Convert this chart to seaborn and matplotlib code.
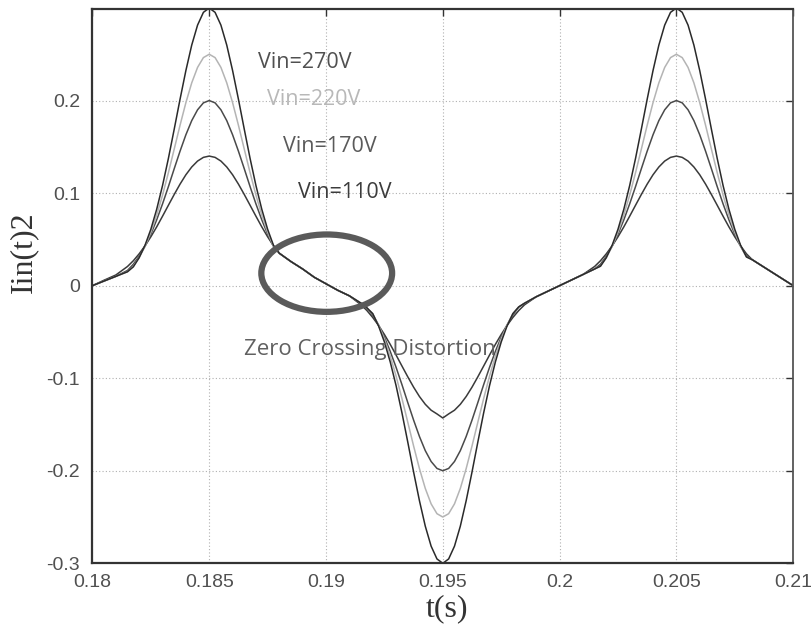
import numpy as np
import pandas as pd
import seaborn as sns
import matplotlib
matplotlib.use("Agg")
import matplotlib.pyplot as plt
from matplotlib.patches import Ellipse

# ---- data ----
t = [0.18, 0.1805, 0.181, 0.1815, 0.18175, 0.182, 0.18225,
     0.1825, 0.18275, 0.183, 0.18325, 0.1835, 0.18375, 0.184, 0.18425, 0.1845, 0.18475,
     0.185, 0.18525, 0.1855, 0.18575, 0.186, 0.18625, 0.1865, 0.18675, 0.187, 0.18725, 0.1875,
     0.18775, 0.188, 0.1885, 0.189, 0.1895, 0.19, 0.1905, 0.191, 0.1915, 0.19175, 0.192, 0.19225,
     0.1925, 0.19275, 0.193, 0.19325, 0.1935, 0.19375, 0.194, 0.19425, 0.1945, 0.19475,
     0.195, 0.19525, 0.1955, 0.19575, 0.196, 0.19625, 0.1965, 0.19675, 0.197, 0.19725, 0.1975,
     0.19775, 0.198, 0.19825, 0.1985, 0.199, 0.1995, 0.2, 0.2005, 0.201, 0.2015, 0.20175, 0.202, 0.20225,
     0.2025, 0.20275, 0.203, 0.20325, 0.2035, 0.20375, 0.204, 0.20425, 0.2045, 0.20475,
     0.205, 0.20525, 0.2055, 0.20575, 0.206, 0.20625, 0.2065, 0.20675, 0.207, 0.20725, 0.2075,
     0.20775, 0.208, 0.20825, 0.2085, 0.209, 0.2095, 0.21]

v270 = [0, 0.005, 0.010, 0.015, 0.0203, 0.0302, 0.0436,
        0.0609, 0.0825, 0.1081, 0.1373, 0.1690, 0.2014, 0.2324, 0.2599, 0.2815, 0.2953,
        0.300, 0.2953, 0.2815, 0.2599, 0.2324, 0.2014, 0.1690, 0.1373, 0.1081, 0.0825, 0.0609,
        0.0436, 0.035, 0.026, 0.018, 0.009, 0.002, -0.005, -0.011, -0.019, -0.024, -0.0302, -0.0436,
        -0.0609, -0.0825, -0.1081, -0.1373, -0.1690, -0.2014, -0.2324, -0.2599, -0.2815, -0.2953,
        -0.300, -0.2953, -0.2815, -0.2599, -0.2324, -0.2014, -0.1690, -0.1373, -0.1081, -0.0825, -0.0609,
        -0.0436, -0.0302, -0.023, -0.019, -0.012, -0.006, 0.0, 0.006, 0.012, 0.018, 0.021, 0.0302, 0.0436,
        0.0609, 0.0825, 0.1081, 0.1373, 0.1690, 0.2014, 0.2324, 0.2599, 0.2815, 0.2953,
        0.300, 0.2953, 0.2815, 0.2599, 0.2324, 0.2014, 0.1690, 0.1373, 0.1081, 0.0825, 0.0609,
        0.0436, 0.031, 0.028, 0.024, 0.016, 0.008, 0.0]

v220 = [0, 0.005, 0.010, 0.015, 0.0210, 0.0303, 0.0424,
        0.0577, 0.0762, 0.0978, 0.1219, 0.1475, 0.1733, 0.1977, 0.2191, 0.2358, 0.2464,
        0.250, 0.2464, 0.2358, 0.2191, 0.1977, 0.1733, 0.1475, 0.1219, 0.0978, 0.0762, 0.0577,
        0.0424, 0.035, 0.026, 0.018, 0.009, 0.002, -0.005, -0.011, -0.019, -0.024, -0.0303, -0.0424,
        -0.0577, -0.0762, -0.0978, -0.1219, -0.1475, -0.1733, -0.1977, -0.2191, -0.2358, -0.2464,
        -0.250, -0.2464, -0.2358, -0.2191, -0.1977, -0.1733, -0.1475, -0.1219, -0.0978, -0.0762, -0.0577,
        -0.0424, -0.0303, -0.023, -0.019, -0.012, -0.006, 0.0, 0.006, 0.012, 0.018, 0.021, 0.0303, 0.0424,
        0.0577, 0.0762, 0.0978, 0.1219, 0.1475, 0.1733, 0.1977, 0.2191, 0.2358, 0.2464,
        0.250, 0.2464, 0.2358, 0.2191, 0.1977, 0.1733, 0.1475, 0.1219, 0.0978, 0.0762, 0.0577,
        0.0424, 0.031, 0.028, 0.024, 0.016, 0.008, 0.0]

v170 = [0, 0.005, 0.010, 0.0164, 0.0231, 0.0318, 0.0426,
        0.0557, 0.0711, 0.0883, 0.1069, 0.1263, 0.1453, 0.1630, 0.1783, 0.1900, 0.1975,
        0.200, 0.1975, 0.1900, 0.1783, 0.1630, 0.1453, 0.1263, 0.1069, 0.0883, 0.0711, 0.0557,
        0.0426, 0.035, 0.026, 0.018, 0.009, 0.002, -0.005, -0.011, -0.019, -0.024, -0.0318, -0.0426,
        -0.0557, -0.0711, -0.0883, -0.1069, -0.1263, -0.1453, -0.1630, -0.1783, -0.1900, -0.1975,
        -0.200, -0.1975, -0.1900, -0.1783, -0.1630, -0.1453, -0.1263, -0.1069, -0.0883, -0.0711, -0.0557,
        -0.0426, -0.0318, -0.0231, -0.019, -0.012, -0.006, 0.0, 0.006, 0.012, 0.018, 0.0231, 0.0318, 0.0426,
        0.0557, 0.0711, 0.0883, 0.1069, 0.1263, 0.1453, 0.1630, 0.1783, 0.1900, 0.1975,
        0.200, 0.1975, 0.1900, 0.1783, 0.1630, 0.1453, 0.1263, 0.1069, 0.0883, 0.0711, 0.0557,
        0.0426, 0.0318, 0.028, 0.024, 0.016, 0.008, 0.0]

v110 = [0, 0.0059, 0.0115, 0.0207, 0.0269, 0.0344, 0.0430,
        0.0528, 0.0635, 0.0750, 0.0868, 0.0985, 0.1097, 0.1198, 0.1282, 0.1346, 0.1386,
        0.140, 0.1386, 0.1346, 0.1282, 0.1198, 0.1097, 0.0985, 0.0868, 0.0750, 0.0635, 0.0528,
        0.0430, 0.035, 0.026, 0.018, 0.009, 0.002, -0.005, -0.011, -0.0207, -0.0269, -0.0344, -0.0430,
        -0.0528, -0.0635, -0.0750, -0.0868, -0.0985, -0.1097, -0.1198, -0.1282, -0.1346, -0.1386,
        -0.143, -0.1386, -0.1346, -0.1282, -0.1198, -0.1097, -0.0985, -0.0868, -0.0750, -0.0635, -0.0528,
        -0.0430, -0.0344, -0.0269, -0.0207, -0.012, -0.006, 0.0, 0.006, 0.012, 0.0207, 0.0269, 0.0344, 0.0430,
        0.0528, 0.0635, 0.0750, 0.0868, 0.0985, 0.1097, 0.1198, 0.1282, 0.1346, 0.1386,
        0.140, 0.1386, 0.1346, 0.1282, 0.1198, 0.1097, 0.0985, 0.0868, 0.0750, 0.0635, 0.0528,
        0.0430, 0.0344, 0.028, 0.024, 0.016, 0.008, 0.0]

series_names = ["Vin=110V", "Vin=170V", "Vin=220V", "Vin=270V"]
series_vals = [v110, v170, v220, v270]
series_colors = ["#3a3a3a", "#4a4a4a", "#b4b4b4", "#2a2a2a"]
label_colors = ["#3c3c3c", "#5a5a5a", "#b8b8b8", "#505050"]
label_pos = [(0.18880, 0.1003), (0.18816, 0.1501), (0.18747, 0.2009), (0.18709, 0.2409)]

xticks = [0.18, 0.185, 0.19, 0.195, 0.2, 0.205, 0.21]
xticklabels = ["0.18", "0.185", "0.19", "0.195", "0.2", "0.205", "0.21"]
yticks = [-0.3, -0.2, -0.1, 0.0, 0.1, 0.2]
yticklabels = ["-0.3", "-0.2", "-0.1", "0", "0.1", "0.2"]

ellipse_center = (0.19003, 0.0135)
ellipse_size = (0.0056, 0.0836)
annot_text = "Zero Crossing Distortion"
annot_pos = (0.18649, -0.0694)

# ---- build long-form frame ----
frames = []
for name, vals in zip(series_names, series_vals):
    frames.append(pd.DataFrame({"t": t, "I": vals, "series": name}))
df = pd.concat(frames, ignore_index=True)

sns.set_style("white")
plt.rcParams["font.family"] = ["Liberation Sans", "DejaVu Sans"]

fig = plt.figure(figsize=(8.11, 6.37), dpi=100)
ax = fig.add_axes([0.114, 0.1157, 0.864, 0.8703])

sns.lineplot(data=df, x="t", y="I", hue="series", hue_order=series_names,
             palette=dict(zip(series_names, series_colors)), linewidth=1.1,
             legend=False, ax=ax, sort=False, estimator=None)

ax.set_xlim(0.18, 0.21)
ax.set_ylim(-0.3, 0.299)
ax.set_xticks(xticks)
ax.set_xticklabels(xticklabels)
ax.set_yticks(yticks)
ax.set_yticklabels(yticklabels)
ax.grid(True, linestyle=(0, (1, 2)), color="#b0b0b0", linewidth=0.8)
ax.tick_params(direction="in", length=5, width=1, top=True, right=True,
               labelsize=14, labelcolor="#505050", color="#333333")
ax.tick_params(axis="x", pad=8)
ax.tick_params(axis="y", pad=9)

for side in ["left", "bottom", "top"]:
    ax.spines[side].set_color("#333333")
    ax.spines[side].set_linewidth(1.6)
ax.spines["right"].set_color("#555555")
ax.spines["right"].set_linewidth(1.3)

ax.set_xlabel("t(s)", family=["Liberation Serif"], fontsize=23, color="#333333")
ax.set_ylabel("Iin(t)2", family=["Liberation Serif"], fontsize=23, color="#333333")
ax.xaxis.set_label_coords(0.506, -0.055)
ax.yaxis.set_label_coords(-0.078, 0.562)

for name, col, (lx, ly) in zip(series_names, label_colors, label_pos):
    ax.text(lx, ly, name, ha="left", va="center", fontsize=15.5, color=col,
            family=["Open Sans", "DejaVu Sans"])

ax.add_patch(Ellipse(ellipse_center, ellipse_size[0], ellipse_size[1], fill=False,
                     edgecolor="#5a5a5a", linewidth=4.5, zorder=5))
ax.text(annot_pos[0], annot_pos[1], annot_text, ha="left", va="center", fontsize=16,
        color="#606060", family=["Open Sans", "DejaVu Sans"])

fig.savefig("out.png", dpi=100)
